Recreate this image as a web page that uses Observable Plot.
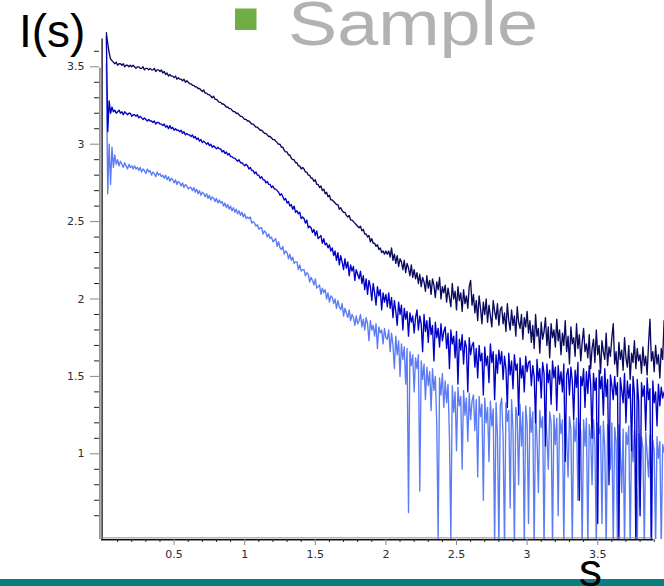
<!DOCTYPE html>
<html>
<head>
<meta charset="utf-8">
<script src="https://cdn.jsdelivr.net/npm/d3@7"></script>
<script src="https://cdn.jsdelivr.net/npm/@observablehq/plot@0.6"></script>
<style>
  html, body { margin: 0; padding: 0; background: #fff; }
  #wrap { position: relative; width: 664px; height: 586px; overflow: hidden; }
  #chart { position: absolute; left: 0; top: 0; }
  #overlay { position: absolute; left: 0; top: 0; pointer-events: none; }
</style>
</head>
<body>
<div id="wrap">
  <div id="chart"></div>
  <svg id="overlay" width="664" height="586" xmlns="http://www.w3.org/2000/svg">
    <text x="19" y="47" font-family="'Liberation Sans', Arial, sans-serif" font-size="46" fill="#000">I(s)</text>
    <rect x="235" y="8.5" width="21.5" height="21.5" fill="#70ad47"></rect>
    <text x="288" y="45" font-family="'Liberation Sans', Arial, sans-serif" font-size="63" fill="#b2b2b2" textLength="250" lengthAdjust="spacingAndGlyphs">Sample</text>
    <rect x="0" y="579" width="664" height="7" fill="#087f7f"></rect>
    <text x="579" y="586" font-family="'Liberation Sans', Arial, sans-serif" font-size="46" fill="#000">s</text>
  </svg>
</div>
<script>
// sampling grid of s (scattering vector): start and step
const sStart = 0.02;
const sStep = 0.01;

// I(s) values, top (dark) curve
const darkCurve = [
3.72,3.65,3.59,3.55,3.54,3.53,3.52,3.53,3.51,3.52,3.52,3.51,3.52,3.50,3.51,3.51,3.50,3.51,3.50,3.51,
3.50,3.49,3.50,3.50,3.49,3.49,3.50,3.48,3.49,3.49,3.48,3.49,3.48,3.48,3.49,3.47,3.48,3.48,3.47,3.48,
3.46,3.47,3.45,3.46,3.44,3.45,3.44,3.44,3.43,3.44,3.42,3.43,3.42,3.42,3.41,3.42,3.40,3.41,3.40,3.39,
3.39,3.38,3.38,3.37,3.37,3.36,3.36,3.35,3.34,3.35,3.33,3.33,3.32,3.32,3.31,3.30,3.31,3.29,3.29,3.28,
3.27,3.27,3.26,3.26,3.25,3.24,3.24,3.23,3.23,3.22,3.21,3.21,3.20,3.20,3.19,3.18,3.18,3.17,3.16,3.16,
3.15,3.15,3.14,3.13,3.13,3.12,3.11,3.11,3.10,3.09,3.09,3.08,3.07,3.07,3.06,3.05,3.05,3.04,3.03,3.03,
3.02,3.01,3.00,3.00,2.98,2.98,2.96,2.95,2.95,2.93,2.93,2.91,2.90,2.90,2.88,2.88,2.86,2.86,2.84,2.85,
2.84,2.82,2.82,2.80,2.80,2.78,2.78,2.76,2.77,2.74,2.74,2.72,2.73,2.70,2.71,2.68,2.69,2.66,2.67,2.64,
2.64,2.63,2.62,2.61,2.61,2.58,2.59,2.57,2.56,2.56,2.54,2.53,2.54,2.51,2.51,2.50,2.49,2.48,2.47,2.46,
2.47,2.44,2.45,2.42,2.42,2.40,2.41,2.37,2.39,2.36,2.36,2.34,2.35,2.32,2.33,2.30,2.31,2.29,2.31,2.29,
2.31,2.27,2.33,2.25,2.29,2.23,2.28,2.21,2.26,2.24,2.19,2.25,2.17,2.23,2.20,2.15,2.22,2.14,2.19,2.13,
2.17,2.10,2.16,2.08,2.14,2.11,2.05,2.15,2.07,2.12,2.03,2.13,2.09,2.01,2.11,2.06,2.14,2.00,2.08,2.04,
2.09,1.98,2.07,2.01,1.95,2.10,2.00,2.05,1.93,2.08,1.99,2.04,1.92,2.06,1.97,2.02,1.94,2.08,2.12,1.96,
2.03,1.91,1.99,1.86,2.02,1.94,1.84,1.98,1.90,2.00,1.85,1.96,1.89,1.82,1.99,1.92,1.87,1.97,1.83,1.93,
1.95,1.84,1.91,1.79,1.97,1.86,1.80,1.93,1.83,1.89,1.76,1.95,1.85,1.81,1.90,1.74,1.88,1.82,1.92,1.78,
1.86,1.72,1.83,1.68,1.90,1.76,1.81,1.65,1.85,1.74,1.79,1.88,1.70,1.82,1.62,1.84,1.75,1.80,1.69,1.87,
1.73,1.80,1.64,1.78,1.70,1.86,1.66,1.76,1.58,1.82,1.71,1.75,1.63,1.84,1.68,1.77,1.60,1.72,1.81,1.66,
1.71,1.62,1.77,1.55,1.68,1.74,1.59,1.80,1.64,1.70,1.52,1.73,1.66,1.61,1.78,1.57,1.69,1.63,1.75,1.84,
1.58,1.66,1.50,1.72,1.61,1.67,1.54,1.75,1.62,1.56,1.70,1.48,1.65,1.59,1.73,1.55,1.68,1.60,1.64,1.52,
1.69,1.57,1.63,1.51,1.71,1.87,1.60,1.66,1.53,1.70,1.58,1.64,1.49,1.68,1.61,1.86
];

// middle (blue) curve
const midCurve = [
3.70,3.08,3.28,3.20,3.24,3.21,3.22,3.20,3.21,3.22,3.20,3.21,3.19,3.21,3.20,3.19,3.20,3.20,3.18,3.19,
3.19,3.18,3.19,3.17,3.18,3.17,3.16,3.17,3.16,3.15,3.16,3.15,3.15,3.14,3.15,3.13,3.14,3.14,3.13,3.13,
3.12,3.13,3.11,3.12,3.10,3.12,3.10,3.11,3.09,3.10,3.09,3.09,3.08,3.09,3.07,3.08,3.06,3.07,3.06,3.06,
3.05,3.06,3.04,3.05,3.03,3.04,3.02,3.03,3.01,3.02,3.01,3.00,3.01,2.99,3.00,2.98,2.99,2.98,2.97,2.98,
2.97,2.97,2.95,2.96,2.94,2.95,2.93,2.94,2.92,2.92,2.91,2.91,2.90,2.89,2.90,2.88,2.88,2.87,2.86,2.87,
2.86,2.84,2.85,2.83,2.83,2.81,2.82,2.80,2.80,2.78,2.79,2.77,2.77,2.75,2.76,2.74,2.74,2.72,2.73,2.71,
2.71,2.70,2.69,2.67,2.68,2.66,2.64,2.65,2.62,2.63,2.60,2.61,2.58,2.60,2.56,2.57,2.55,2.56,2.52,2.53,
2.52,2.49,2.51,2.46,2.47,2.46,2.43,2.45,2.41,2.44,2.39,2.40,2.41,2.36,2.39,2.35,2.36,2.33,2.35,2.31,
2.33,2.28,2.31,2.25,2.30,2.22,2.28,2.24,2.19,2.26,2.20,2.24,2.15,2.22,2.18,2.21,2.12,2.19,2.16,2.13,
2.18,2.10,2.15,2.06,2.13,2.03,2.12,2.08,1.99,2.10,2.04,1.96,2.08,2.02,2.06,1.93,2.04,1.98,2.03,1.95,
2.04,1.94,2.01,1.88,1.99,1.92,1.83,1.98,1.90,1.96,1.80,1.94,1.87,1.92,1.76,1.91,1.85,1.89,1.78,1.88,
1.93,1.80,1.89,1.84,1.66,1.90,1.79,1.86,1.72,1.88,1.77,1.83,1.60,1.85,1.75,1.81,1.69,1.84,1.73,1.79,
1.82,1.68,1.78,1.55,1.80,1.71,1.76,1.62,1.79,1.45,1.74,1.67,1.77,1.58,1.73,1.69,1.40,1.75,1.64,1.70,
1.72,1.56,1.68,1.49,1.70,1.60,1.65,1.38,1.69,1.57,1.63,1.46,1.71,1.59,1.66,1.35,1.64,1.52,1.67,1.58,
1.66,1.48,1.63,1.55,1.30,1.65,1.51,1.60,1.42,1.64,1.54,1.58,1.25,1.62,1.49,1.57,1.40,1.63,1.53,1.59,
1.60,1.44,1.57,1.50,1.20,1.61,1.47,1.55,1.36,1.59,1.52,1.05,1.58,1.46,1.54,1.32,1.60,1.49,1.56,1.28,
1.57,1.45,1.53,1.40,1.58,0.95,1.51,1.55,1.38,1.56,1.47,1.22,1.54,1.43,1.59,0.70,1.50,1.44,1.55,1.30,
1.53,1.39,1.57,1.45,1.10,1.52,1.41,1.49,0.55,1.54,1.42,1.50,1.25,1.55,1.37,1.48,0.80,1.51,1.44,1.35,
1.50,1.38,1.46,0.40,1.49,1.41,1.33,1.52,1.20,1.47,1.36,1.45,1.02,1.50,1.39,0.40,1.48,1.34,0.60,1.46,
1.37,1.44,1.15,1.49,1.35,1.42,0.40,1.47,1.33,1.40,1.18,1.45,1.31,1.43,1.36,1.40
];

// bottom (light blue) curve
const lightCurve = [
3.52,2.68,3.00,2.74,2.98,2.85,2.93,2.87,2.90,2.86,2.89,2.87,2.85,2.88,2.86,2.84,2.87,2.85,2.86,2.84,
2.86,2.84,2.85,2.83,2.85,2.82,2.84,2.83,2.81,2.84,2.82,2.83,2.80,2.82,2.81,2.79,2.82,2.80,2.81,2.79,
2.80,2.78,2.80,2.77,2.79,2.76,2.78,2.77,2.75,2.77,2.74,2.76,2.75,2.73,2.75,2.72,2.74,2.73,2.71,2.72,
2.72,2.70,2.72,2.69,2.71,2.68,2.70,2.67,2.69,2.68,2.66,2.68,2.65,2.67,2.64,2.66,2.65,2.63,2.65,2.62,
2.64,2.62,2.63,2.60,2.62,2.59,2.61,2.58,2.60,2.57,2.59,2.56,2.58,2.55,2.57,2.54,2.56,2.53,2.55,2.52,
2.53,2.52,2.53,2.49,2.50,2.49,2.47,2.48,2.45,2.46,2.46,2.42,2.44,2.43,2.40,2.42,2.39,2.40,2.37,2.38,
2.39,2.34,2.37,2.33,2.32,2.34,2.29,2.31,2.30,2.26,2.29,2.25,2.27,2.23,2.24,2.24,2.19,2.22,2.18,2.19,
2.19,2.15,2.17,2.16,2.11,2.14,2.12,2.09,2.13,2.07,2.08,2.09,2.03,2.07,2.04,2.06,2.00,2.04,1.98,2.02,
2.01,1.97,2.00,1.94,1.99,1.95,1.93,1.97,1.89,1.94,1.91,1.88,1.93,1.86,1.90,1.88,1.83,1.89,1.84,1.86,
1.90,1.82,1.87,1.80,1.88,1.84,1.73,1.86,1.80,1.83,1.76,1.84,1.68,1.82,1.78,1.80,1.71,1.81,1.75,1.74,
1.80,1.66,1.78,1.70,1.55,1.76,1.64,1.73,1.50,1.71,1.61,1.69,1.45,1.68,0.62,1.66,1.57,1.64,1.40,1.62,
1.55,1.64,0.76,1.60,1.48,1.58,1.35,1.56,1.44,1.53,1.28,1.55,1.41,1.50,1.20,0.45,1.49,1.38,1.52,1.30,
1.47,1.33,1.45,1.10,0.45,1.44,1.27,1.40,1.02,1.43,1.31,1.37,0.90,1.41,1.25,1.36,1.08,1.39,1.22,1.34,
1.38,1.15,1.35,0.85,1.37,1.24,1.32,0.70,1.36,1.20,1.30,0.95,1.34,1.18,1.29,0.40,1.33,1.12,0.40,1.31,
1.36,1.10,0.40,1.33,1.21,1.28,0.65,1.35,1.16,0.40,1.30,1.24,0.80,1.32,1.05,1.27,0.40,1.31,1.19,0.55,
1.30,1.14,1.27,0.40,1.29,1.09,0.75,1.28,1.17,1.24,0.40,1.26,1.12,0.90,1.27,1.20,0.40,1.25,1.06,1.23,
0.60,1.26,1.13,1.22,0.40,1.25,1.10,0.85,1.24,1.16,0.40,1.21,1.08,1.23,0.70,1.20,1.14,0.40,1.22,1.05,
1.23,0.40,1.19,1.11,0.80,1.22,1.07,0.40,1.20,1.13,1.18,0.55,1.21,1.04,0.40,1.19,1.10,0.90,1.20,0.40,
1.17,1.08,0.40,1.19,1.03,0.75,1.16,0.40,1.14,1.06,1.18,0.40,1.12,0.95,1.15,1.02,0.40,1.13,0.65,1.11,
1.04,0.40,1.14,1.00,0.85,1.12,0.40,1.09,1.02,0.40,1.11,0.97,1.08,0.40,1.06,1.01
];

// tick values
const yMajor = [1, 1.5, 2, 2.5, 3, 3.5];
const yMinor = [0.6,0.7,0.8,0.9,1.1,1.2,1.3,1.4,1.6,1.7,1.8,1.9,2.1,2.2,2.3,2.4,2.6,2.7,2.8,2.9,3.1,3.2,3.3,3.4,3.6];
const xMajor = [0.5, 1, 1.5, 2, 2.5, 3, 3.5];
const xMinor = [0.1,0.2,0.3,0.4,0.6,0.7,0.8,0.9,1.1,1.2,1.3,1.4,1.6,1.7,1.8,1.9,2.1,2.2,2.3,2.4,2.6,2.7,2.8,2.9,3.1,3.2,3.3,3.4,3.6,3.7,3.8,3.9];

const xDomain = [-0.0142, 3.973];
const yDomain = [0.4464, 3.7345];
const xAxisEnd = 3.895;
const yAxisTop = 3.68;
const yGrayTop = 3.49;

const toRows = (vals) => vals.map((v, i) => ({s: +(sStart + sStep * i).toFixed(2), v}));

const tickFont = "'DejaVu Sans', Verdana, sans-serif";

const chart = Plot.plot({
  width: 664,
  height: 586,
  marginLeft: 101,
  marginRight: 0,
  marginTop: 30,
  marginBottom: 47,
  x: {domain: xDomain},
  y: {domain: yDomain},
  style: {background: "transparent", fontFamily: tickFont},
  marks: [
    Plot.line(toRows(lightCurve), {x: "s", y: "v", stroke: "#5b7cf4", strokeWidth: 1.35, clip: true}),
    Plot.line(toRows(midCurve), {x: "s", y: "v", stroke: "#0000c6", strokeWidth: 1.35, clip: true}),
    Plot.line(toRows(darkCurve), {x: "s", y: "v", stroke: "#0a0a5e", strokeWidth: 1.35, clip: true}),
    // y axis lines
    Plot.ruleX([xDomain[0]], {y1: yDomain[0], y2: yGrayTop, stroke: "#8a8a8a", strokeWidth: 1.6, dx: -1.6}),
    Plot.ruleX([xDomain[0]], {y1: yDomain[0], y2: yAxisTop, stroke: "#111", strokeWidth: 1.3, dx: 0.6}),
    // x axis lines
    Plot.ruleY([yDomain[0]], {x1: xDomain[0], x2: xAxisEnd, stroke: "#8a8a8a", strokeWidth: 1, dy: -1.6}),
    Plot.ruleY([yDomain[0]], {x1: xDomain[0], x2: xAxisEnd, stroke: "#111", strokeWidth: 1.6, dy: 0.2}),
    // y ticks
    Plot.axisY({ticks: yMinor, tickSize: 5, tickFormat: () => "", stroke: "#222", label: null, dx: -2}),
    Plot.axisY({ticks: yMajor, tickSize: 9, tickPadding: 6, tickFormat: d => String(d), stroke: "#888", fill: "#2b2b3a", fontSize: 11, label: null, dx: -2}),
    // x ticks
    Plot.axisX({ticks: xMinor, tickSize: 3, tickFormat: () => "", stroke: "#222", label: null}),
    Plot.axisX({ticks: xMajor, tickSize: 6, tickPadding: 5, tickFormat: d => String(d), stroke: "#888", fill: "#2b2b3a", fontSize: 11, label: null})
  ]
});
document.getElementById("chart").appendChild(chart);
</script>
</body>
</html>
